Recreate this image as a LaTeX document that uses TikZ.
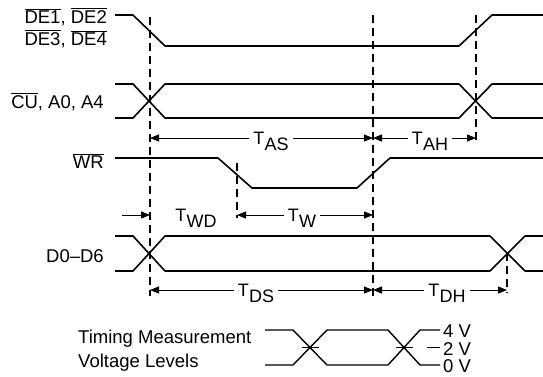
\documentclass[tikz,border=0pt]{standalone}
\usepackage{fontspec}
\setmainfont{Liberation Sans}
\usetikzlibrary{arrows.meta}
\newcommand\ovl[1]{\ensuremath{\overline{\hbox{#1}}}}
\newcommand\Tsub[1]{T\kern0.01em\raisebox{-0.34em}{#1}}
\begin{document}
\begin{tikzpicture}[x=1pt,y=-1pt,
  sig/.style={line width=1.6pt, line join=round},
  guide/.style={line width=1.2pt, dash pattern=on 8pt off 5pt},
  dim/.style={line width=0.9pt, -{Triangle[length=9pt,width=7pt]}},
  lbl/.style={font=\fontsize{18.5}{22}\selectfont, inner sep=0pt, anchor=base east},
  lblw/.style={font=\fontsize{18.5}{22}\selectfont, inner sep=0pt, anchor=base west},
  tlbl/.style={font=\fontsize{18}{22}\selectfont, inner xsep=4pt, inner ysep=0pt, anchor=base},
  tick/.style={line width=0.7pt}]
\useasboundingbox (0,0) rectangle (543,376);

% waveforms
\draw[sig] (115,15) -- (133,15) -- (165,46) -- (459,46) -- (492,15) -- (543,15);
\draw[sig] (115,84) -- (133,84) -- (165,118) -- (459,118) -- (492,84) -- (543,84);
\draw[sig] (115,118) -- (133,118) -- (165,84) -- (459,84) -- (492,118) -- (543,118);
\draw[sig] (115,158) -- (218,158) -- (252,188) -- (357,188) -- (390,158) -- (543,158);
\draw[sig] (115,236) -- (133,236) -- (165,271) -- (490,271) -- (525,236) -- (543,236);
\draw[sig] (115,271) -- (133,271) -- (165,236) -- (490,236) -- (525,271) -- (543,271);

% guide lines
\draw[guide] (150,17) -- (150,296);
\draw[guide] (373,15) -- (373,296);
\draw[guide] (476,15) -- (476,143);
\draw[guide] (237,163) -- (237,218);
\draw[guide] (507,253) -- (507,293);

% signal labels
\node[lbl] (de1) at (107,23) {\ovl{DE1}, \ovl{DE2}};
\node[lbl] (de3) at (107,45) {\ovl{DE3}, \ovl{DE4}};
\node[lbl] (cu) at (104,108) {\ovl{CU}, A0, A4};
\node[lbl] (wr) at (104,168) {\ovl{WR}};
\node[lbl] (dd) at (104,262) {D0–D6};

% timing coordinates
\coordinate (asL) at (150,138);
\coordinate (asR) at (373,138);
\coordinate (ahR) at (476,138);
\coordinate (wdL) at (122,215);
\coordinate (wdR) at (150,215);
\coordinate (wL) at (237,215);
\coordinate (wR) at (373,215);
\coordinate (dsL) at (150,290);
\coordinate (dsR) at (373,290);
\coordinate (dhR) at (507,290);

\node[tlbl] (tas) at (271,144.5) {\Tsub{AS}};
\node[tlbl] (tah) at (430,144.5) {\Tsub{AH}};
\node[tlbl] (twd) at (196,221.5) {\Tsub{WD}};
\node[tlbl] (tw) at (302,221.5) {\Tsub{W}};
\node[tlbl] (tds) at (256,296.5) {\Tsub{DS}};
\node[tlbl] (tdh) at (447,296.5) {\Tsub{DH}};

\draw[dim] (tas.west |- asL) -- (asL);
\draw[dim] (tas.east |- asR) -- (asR);
\draw[dim] (tah.west |- asR) -- (asR);
\draw[dim] (tah.east |- ahR) -- (ahR);
\draw[dim] (wdL) -- (wdR);
\draw[dim] (tw.west |- wL) -- (wL);
\draw[dim] (tw.east |- wR) -- (wR);
\draw[dim] (tds.west |- dsL) -- (dsL);
\draw[dim] (tds.east |- dsR) -- (dsR);
\draw[dim] (tdh.west |- dsR) -- (dsR);
\draw[dim] (tdh.east |- dhR) -- (dhR);

% measurement levels
\node[lblw] (tm1) at (78,343) {Timing Measurement};
\node[lblw] (tm2) at (78,367) {Voltage Levels};
\draw[sig, line width=1.4pt] (265,330) -- (293,330) -- (327,365) -- (388,365) -- (420,330) -- (440,330);
\draw[sig, line width=1.4pt] (265,365) -- (293,365) -- (327,330) -- (388,330) -- (420,365) -- (440,365);
\draw[tick] (302,347.5) -- (319,347.5);
\draw[tick] (396,347.5) -- (413,347.5);
\draw[tick] (427,347.5) -- (440,347.5);
\node[lblw] (v4) at (443,337) {4 V};
\node[lblw] (v2) at (443,355) {2 V};
\node[lblw] (v0) at (443,372) {0 V};
\end{tikzpicture}
\end{document}
